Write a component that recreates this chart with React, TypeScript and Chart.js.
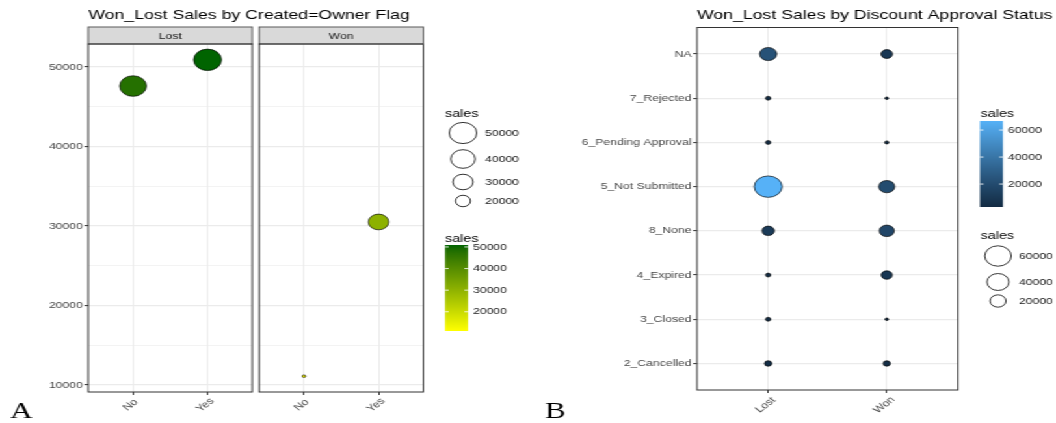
import { useEffect, useRef } from "react";
import { Chart, registerables } from "chart.js";

Chart.register(...registerables);

// ---- Panel A: sales by Created=Owner flag, one facet per outcome
const ownerFlags = ["No", "Yes"];
const facetLabels = ["Lost", "Won"];
const lostSalesByOwnerFlag = [47600, 50900];
const wonSalesByOwnerFlag = [11100, 30500];
const salesMajorTicksA = [10000, 20000, 30000, 40000, 50000];
const salesMinorTicksA = [15000, 25000, 35000, 45000];
const sizeLegendBreaksA = [50000, 40000, 30000, 20000];
const colorLegendBreaksA = [20000, 30000, 40000, 50000];

// ---- Panel B: sales by discount approval status (listed bottom to top)
const outcomeLabels = ["Lost", "Won"];
const approvalStatuses = [
  "2_Cancelled",
  "3_Closed",
  "4_Expired",
  "8_None",
  "5_Not Submitted",
  "6_Pending Approval",
  "7_Rejected",
  "NA",
];
const lostSalesByStatus = [4600, 3300, 3300, 11500, 66700, 3300, 3300, 23000];
const wonSalesByStatus = [4500, 3000, 9200, 17400, 20000, 3050, 3000, 10000];
const colorLegendBreaksB = [20000, 40000, 60000];
const sizeLegendBreaksB = [60000, 40000, 20000];

// ---- Styling
const STRETCH = 1.3005; // the whole figure is drawn narrow and widened horizontally
const SANS = '"Liberation Sans", Arial, Helvetica, sans-serif';
const SERIF = '"Liberation Serif", "DejaVu Serif", "Times New Roman", serif';
const AXIS_TEXT_SIZE = 9.4;
const AXIS_TEXT_COLOR = "#474747";
const LEGEND_TEXT_COLOR = "#1a1a1a";
const GRID = "#ebebeb";
const FRAME = "#333333";
const STRIP_FILL = "#d9d9d9";
const STRIP_TOP = 27;
const X_LABEL_Y = 405;
const R_MIN = 1.3;
const R_SPAN = 9.4;
const POINT_STROKE = 0.65;

// ---- Colour ramps interpolated in CIELAB
function hexToRgb(hex: string) {
  const n = parseInt(hex.slice(1), 16);
  return [(n >> 16) & 255, (n >> 8) & 255, n & 255];
}
const toLinear = (c: number) => {
  const s = c / 255;
  return s <= 0.04045 ? s / 12.92 : Math.pow((s + 0.055) / 1.055, 2.4);
};
const fromLinear = (c: number) => {
  const s = c <= 0.0031308 ? 12.92 * c : 1.055 * Math.pow(c, 1 / 2.4) - 0.055;
  return Math.round(Math.min(1, Math.max(0, s)) * 255);
};
function rgbToLab(rgb: number[]) {
  const [r, g, b] = rgb.map(toLinear);
  const x = (0.4124564 * r + 0.3575761 * g + 0.1804375 * b) / 0.95047;
  const y = 0.2126729 * r + 0.7151522 * g + 0.072175 * b;
  const z = (0.0193339 * r + 0.119192 * g + 0.9503041 * b) / 1.08883;
  const f = (t: number) => (t > 216 / 24389 ? Math.cbrt(t) : ((24389 / 27) * t + 16) / 116);
  const fx = f(x), fy = f(y), fz = f(z);
  return [116 * fy - 16, 500 * (fx - fy), 200 * (fy - fz)];
}
function labToRgb(lab: number[]) {
  const [L, a, b] = lab;
  const fy = (L + 16) / 116, fx = fy + a / 500, fz = fy - b / 200;
  const inv = (t: number) => {
    const t3 = t * t * t;
    return t3 > 216 / 24389 ? t3 : (116 * t - 16) / (24389 / 27);
  };
  const x = inv(fx) * 0.95047, y = inv(fy), z = inv(fz) * 1.08883;
  const r = 3.2404542 * x - 1.5371385 * y - 0.4985314 * z;
  const g = -0.969266 * x + 1.8760108 * y + 0.041556 * z;
  const bl = 0.0556434 * x - 0.2040259 * y + 1.0572252 * z;
  return `rgb(${fromLinear(r)}, ${fromLinear(g)}, ${fromLinear(bl)})`;
}
function labRamp(low: string, high: string) {
  const a = rgbToLab(hexToRgb(low));
  const b = rgbToLab(hexToRgb(high));
  return (t: number) => labToRgb(a.map((v, i) => v + (b[i] - v) * t));
}

// ---- Scales shared by a panel's points and legends
const salesA = [...lostSalesByOwnerFlag, ...wonSalesByOwnerFlag];
const loA = Math.min(...salesA);
const hiA = Math.max(...salesA);
const expandA = (hiA - loA) * 0.05;
const rampA = labRamp("#ffff00", "#006400");
const colorA = (v: number) => rampA((v - loA) / (hiA - loA));
const radiusA = (v: number) => R_MIN + R_SPAN * Math.sqrt((v - loA) / (hiA - loA));

const salesB = [...lostSalesByStatus, ...wonSalesByStatus];
const loB = Math.min(...salesB);
const hiB = Math.max(...salesB);
const rampB = labRamp("#132b43", "#56b1f7");
const colorB = (v: number) => rampB((v - loB) / (hiB - loB));
const radiusB = (v: number) => R_MIN + R_SPAN * Math.sqrt((v - loB) / (hiB - loB));

// ---- Drawing helpers
function text(
  ctx: CanvasRenderingContext2D,
  s: string,
  x: number,
  y: number,
  size: number,
  color: string,
  align: CanvasTextAlign = "left",
  baseline: CanvasTextBaseline = "middle",
  family = SANS
) {
  ctx.save();
  ctx.font = `${size}px ${family}`;
  ctx.fillStyle = color;
  ctx.textAlign = align;
  ctx.textBaseline = baseline;
  ctx.fillText(s, x, y);
  ctx.restore();
}

function drawFrame(chart: any, strip?: string) {
  const { ctx, chartArea: a } = chart;
  ctx.save();
  ctx.lineWidth = 1;
  if (strip) {
    ctx.fillStyle = STRIP_FILL;
    ctx.fillRect(a.left, STRIP_TOP, a.right - a.left, a.top - STRIP_TOP);
    ctx.strokeStyle = "#5a5a5a";
    ctx.strokeRect(a.left, STRIP_TOP, a.right - a.left, a.top - STRIP_TOP);
    text(ctx, strip, (a.left + a.right) / 2, (STRIP_TOP + a.top) / 2 + 0.5, AXIS_TEXT_SIZE, "#1a1a1a", "center");
  }
  ctx.strokeStyle = FRAME;
  ctx.strokeRect(a.left, a.top, a.right - a.left, a.bottom - a.top);
  ctx.restore();
}

function drawXLabels(chart: any, labels: string[]) {
  const { ctx, scales } = chart;
  labels.forEach((lab, i) => {
    const x = scales.x.getPixelForValue(i + 1) - 1.9;
    ctx.save();
    ctx.translate(x, X_LABEL_Y);
    ctx.rotate(-Math.PI / 4);
    text(ctx, lab, 0, 0, AXIS_TEXT_SIZE, AXIS_TEXT_COLOR, "center", "middle");
    ctx.restore();
  });
}

function drawSizeLegend(
  ctx: CanvasRenderingContext2D,
  titleX: number,
  titleBaseline: number,
  keyX: number,
  labelX: number,
  breaks: number[],
  rows: number[],
  radius: (v: number) => number
) {
  text(ctx, "sales", titleX, titleBaseline, 11, "#000", "left", "alphabetic");
  breaks.forEach((v, i) => {
    ctx.save();
    ctx.beginPath();
    ctx.arc(keyX, rows[i], radius(v), 0, Math.PI * 2);
    ctx.fillStyle = "#fff";
    ctx.fill();
    ctx.strokeStyle = "#000";
    ctx.lineWidth = 0.8;
    ctx.stroke();
    ctx.restore();
    text(ctx, String(v), labelX, rows[i], AXIS_TEXT_SIZE, LEGEND_TEXT_COLOR);
  });
}

function drawColorBar(
  ctx: CanvasRenderingContext2D,
  titleX: number,
  titleBaseline: number,
  bar: { x: number; top: number; w: number; h: number },
  labelX: number,
  breaks: number[],
  lo: number,
  hi: number,
  ramp: (t: number) => string
) {
  text(ctx, "sales", titleX, titleBaseline, 11, "#000", "left", "alphabetic");
  const g = ctx.createLinearGradient(0, bar.top + bar.h, 0, bar.top);
  for (let k = 0; k <= 20; k++) g.addColorStop(k / 20, ramp(k / 20));
  ctx.save();
  ctx.fillStyle = g;
  ctx.fillRect(bar.x, bar.top, bar.w, bar.h);
  ctx.strokeStyle = "rgba(255,255,255,0.85)";
  ctx.lineWidth = 1;
  breaks.forEach((v) => {
    const y = bar.top + bar.h - ((v - lo) / (hi - lo)) * bar.h;
    ctx.beginPath();
    ctx.moveTo(bar.x, y);
    ctx.lineTo(bar.x + 2.8, y);
    ctx.moveTo(bar.x + bar.w - 2.8, y);
    ctx.lineTo(bar.x + bar.w, y);
    ctx.stroke();
    text(ctx, String(v), labelX, y, AXIS_TEXT_SIZE, LEGEND_TEXT_COLOR);
  });
  ctx.restore();
}

// ---- Axis builders
function categoryXAxis(count: number, axisHeight: number) {
  return {
    type: "linear",
    bounds: "data",
    min: 0.4,
    max: count + 0.6,
    afterBuildTicks: (scale: any) => {
      scale.ticks = Array.from({ length: count }, (_, i) => ({ value: i + 1 }));
    },
    afterFit: (scale: any) => {
      scale.height = axisHeight;
    },
    ticks: { display: false },
    grid: { color: GRID, lineWidth: 1, tickLength: 3, tickColor: FRAME, tickWidth: 1 },
    border: { display: false },
  };
}

function salesYAxisA(axisWidth: number, showAxis: boolean) {
  const isMajor = (v: number) => salesMajorTicksA.includes(v);
  return {
    type: "linear",
    bounds: "data",
    min: loA - expandA,
    max: hiA + expandA,
    afterBuildTicks: (scale: any) => {
      scale.ticks = [...salesMinorTicksA, ...salesMajorTicksA]
        .sort((a, b) => a - b)
        .map((v) => ({ value: v }));
    },
    afterFit: (scale: any) => {
      scale.width = axisWidth;
    },
    ticks: {
      display: showAxis,
      autoSkip: false,
      padding: 1.2,
      color: AXIS_TEXT_COLOR,
      font: { family: SANS, size: AXIS_TEXT_SIZE },
      callback: (v: number) => (isMajor(v) ? String(v) : ""),
    },
    grid: {
      color: GRID,
      lineWidth: (c: any) => (isMajor(c.tick.value) ? 1.2 : 0.6),
      drawTicks: showAxis,
      tickLength: 3,
      tickWidth: 1,
      tickColor: (c: any) => (isMajor(c.tick.value) ? FRAME : "rgba(0,0,0,0)"),
    },
    border: { display: false },
  };
}

const CANVAS_H = 423;
const A_W = 410;
const LOST_AREA = { left: 67.9, right: 194.0 };
const WON_AREA = { left: 199.3, right: 325.5 };
const A_TOP = 44;
const A_BOTTOM = 392;
const B_LEFT_OFFSET = 410;
const B_W = 402;
const B_AREA = { left: 125.95, right: 326.6, top: 27.5, bottom: 390 };

function facetConfig(facet: number): any {
  const values = facet === 0 ? lostSalesByOwnerFlag : wonSalesByOwnerFlag;
  const area = facet === 0 ? LOST_AREA : WON_AREA;
  const first = facet === 0;
  return {
    type: "bubble",
    data: {
      datasets: [
        {
          data: ownerFlags.map((_, i) => ({ x: i + 1, y: values[i], r: radiusA(values[i]) })),
          backgroundColor: values.map(colorA),
          borderColor: "#000",
          borderWidth: POINT_STROKE,
        },
      ],
    },
    options: {
      responsive: false,
      animation: false,
      events: [],
      layout: {
        padding: { left: first ? 0 : area.left, right: A_W - area.right, top: A_TOP, bottom: 0 },
      },
      plugins: { legend: { display: false }, tooltip: { enabled: false } },
      scales: {
        x: categoryXAxis(ownerFlags.length, CANVAS_H - A_BOTTOM),
        y: salesYAxisA(first ? area.left : 0, first),
      },
    },
    plugins: [
      {
        id: first ? "facetLost" : "facetWon",
        afterDraw(chart: any) {
          const ctx = chart.ctx;
          drawFrame(chart, facetLabels[facet]);
          drawXLabels(chart, ownerFlags);
          if (first) {
            text(ctx, "Won_Lost Sales by Created=Owner Flag", chart.chartArea.left, 19.3, 13.6, "#000", "left", "alphabetic");
            text(ctx, "A", 7.7, 418, 24, "#000", "left", "alphabetic", SERIF);
          } else {
            drawSizeLegend(ctx, 342.2, 116.5, 356, 373, sizeLegendBreaksA, [133, 159, 182, 201], radiusA);
            drawColorBar(
              ctx,
              342.2,
              241.5,
              { x: 342.2, top: 245, w: 17.7, h: 86 },
              363.7,
              colorLegendBreaksA,
              loA,
              hiA,
              rampA
            );
          }
        },
      },
    ],
  };
}

function statusConfig(): any {
  const bubbles = (values: number[], col: number) =>
    approvalStatuses.map((_, i) => ({ x: col, y: i + 1, r: radiusB(values[i]) }));
  return {
    type: "bubble",
    data: {
      datasets: [
        {
          data: bubbles(lostSalesByStatus, 1),
          backgroundColor: lostSalesByStatus.map(colorB),
          borderColor: "#000",
          borderWidth: POINT_STROKE,
        },
        {
          data: bubbles(wonSalesByStatus, 2),
          backgroundColor: wonSalesByStatus.map(colorB),
          borderColor: "#000",
          borderWidth: POINT_STROKE,
        },
      ],
    },
    options: {
      responsive: false,
      animation: false,
      events: [],
      layout: { padding: { left: 0, right: B_W - B_AREA.right, top: B_AREA.top, bottom: 0 } },
      plugins: { legend: { display: false }, tooltip: { enabled: false } },
      scales: {
        x: categoryXAxis(outcomeLabels.length, CANVAS_H - B_AREA.bottom),
        y: {
          type: "linear",
          bounds: "data",
          min: 0.4,
          max: approvalStatuses.length + 0.6,
          afterBuildTicks: (scale: any) => {
            scale.ticks = approvalStatuses.map((_, i) => ({ value: i + 1 }));
          },
          afterFit: (scale: any) => {
            scale.width = B_AREA.left;
          },
          ticks: {
            autoSkip: false,
            padding: 1.2,
            color: AXIS_TEXT_COLOR,
            font: { family: SANS, size: AXIS_TEXT_SIZE },
            callback: (v: number) => approvalStatuses[v - 1] ?? "",
          },
          grid: { color: GRID, lineWidth: 1.2, tickLength: 3, tickWidth: 1, tickColor: FRAME },
          border: { display: false },
        },
      },
    },
    plugins: [
      {
        id: "statusDecor",
        afterDraw(chart: any) {
          const ctx = chart.ctx;
          drawFrame(chart);
          drawXLabels(chart, outcomeLabels);
          text(ctx, "Won_Lost Sales by Discount Approval Status", chart.chartArea.left, 19.3, 13.6, "#000", "left", "alphabetic");
          text(ctx, "B", 9.1, 418, 24, "#000", "left", "alphabetic", SERIF);
          drawColorBar(
            ctx,
            344.1,
            117,
            { x: 343.5, top: 121, w: 17.7, h: 86 },
            365.1,
            colorLegendBreaksB,
            loB,
            hiB,
            rampB
          );
          drawSizeLegend(ctx, 344.1, 239, 357.4, 373.5, sizeLegendBreaksB, [256, 282, 301], radiusB);
        },
      },
    ],
  };
}

export default function App() {
  const lostRef = useRef<HTMLCanvasElement>(null);
  const wonRef = useRef<HTMLCanvasElement>(null);
  const statusRef = useRef<HTMLCanvasElement>(null);

  useEffect(() => {
    const charts = [
      new Chart(lostRef.current!, facetConfig(0)),
      new Chart(wonRef.current!, facetConfig(1)),
      new Chart(statusRef.current!, statusConfig()),
    ];
    return () => charts.forEach((c) => c.destroy());
  }, []);

  return (
    <div
      style={{
        position: "absolute",
        left: 0,
        top: 0,
        width: 812,
        height: CANVAS_H,
        background: "#fff",
        transform: `scaleX(${STRETCH})`,
        transformOrigin: "0 0",
      }}
    >
      <canvas ref={lostRef} width={A_W} height={CANVAS_H} style={{ position: "absolute", left: 0, top: 0 }} />
      <canvas ref={wonRef} width={A_W} height={CANVAS_H} style={{ position: "absolute", left: 0, top: 0 }} />
      <canvas
        ref={statusRef}
        width={B_W}
        height={CANVAS_H}
        style={{ position: "absolute", left: B_LEFT_OFFSET, top: 0 }}
      />
    </div>
  );
}
